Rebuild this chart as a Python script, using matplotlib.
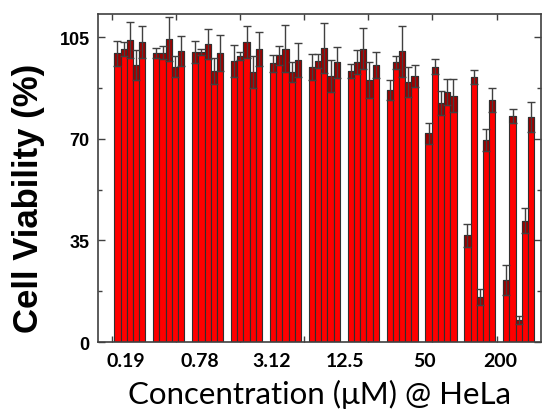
import numpy as np
import matplotlib
matplotlib.use("Agg")
import matplotlib.pyplot as plt
from matplotlib.ticker import MultipleLocator

concentrations = ["0.19", "0.39", "0.78", "1.56", "3.12", "6.25", "12.5", "25", "50", "100", "200"]
label_texts = ["0.19", "0.78", "3.12", "12.5", "50", "200"]
label_positions = [-0.1, 1.8, 3.65, 5.53, 7.58, 9.51]
tick_mark_positions = [-0.47, 1.18, 2.83, 4.47, 6.12, 7.76, 9.43]

values = [
    [99.4, 100.9, 104.1, 95.5, 103.4],
    [99.5, 99.7, 104.5, 94.8, 100.3],
    [100.0, 100.0, 102.8, 93.4, 99.7],
    [96.8, 98.6, 103.4, 93.0, 100.9],
    [96.0, 98.8, 101.1, 93.0, 97.1],
    [94.8, 96.8, 101.4, 91.6, 96.3],
    [93.4, 96.5, 101.1, 90.3, 95.5],
    [86.9, 96.3, 100.1, 89.6, 91.7],
    [71.9, 94.8, 82.3, 86.2, 84.8],
    [36.8, 91.3, 15.4, 69.6, 83.4],
    [21.5, 77.9, 7.6, 41.7, 77.6],
]
errors = [
    [4.4, 2.3, 6.2, 5.2, 5.5],
    [1.7, 2.3, 7.6, 3.6, 5.2],
    [3.8, 1.0, 5.2, 4.5, 6.2],
    [5.5, 1.4, 5.5, 5.5, 5.9],
    [2.9, 3.2, 8.1, 3.4, 5.9],
    [4.5, 2.5, 8.6, 5.6, 5.4],
    [2.5, 4.1, 7.1, 6.3, 4.5],
    [3.4, 2.3, 8.9, 5.2, 3.8],
    [3.6, 2.6, 4.2, 4.4, 5.7],
    [3.9, 2.4, 2.8, 3.7, 4.1],
    [5.2, 2.5, 1.5, 4.3, 5.2],
]

vals = np.array(values)
errs = np.array(errors)
n_groups, n_rep = vals.shape
bw = 0.16
x0 = np.arange(n_groups)

fig = plt.figure(figsize=(5.43, 4.10), dpi=100)
ax = fig.add_axes([0.1805, 0.1634, 0.9963 - 0.1805, 0.9634 - 0.1634])

for j in range(n_rep):
    xs = x0 + (j - (n_rep - 1) / 2) * bw
    ax.bar(xs, vals[:, j], width=bw, color="#FF0000", edgecolor="#303030", linewidth=0.8, zorder=2)
    ax.bar(xs, errs[:, j], bottom=vals[:, j] - errs[:, j], width=bw, color="#A00000",
           edgecolor="#303030", linewidth=0.8, zorder=3)
    ax.errorbar(xs, vals[:, j], yerr=errs[:, j], fmt="none", ecolor="#404040",
                elinewidth=1.0, capsize=3, capthick=1.0, zorder=4)

ax.set_xlim(-0.82, 10.57)
ax.set_ylim(0, 113)
ax.set_yticks([0, 35, 70, 105])
ax.yaxis.set_minor_locator(MultipleLocator(17.5))
ax.set_yticklabels(["0", "35", "70", "105"], fontfamily="Liberation Sans", fontweight="bold", fontsize=13)

ax.set_xticks(tick_mark_positions)
ax.set_xticklabels([""] * len(tick_mark_positions))
ax.set_xticks(label_positions, minor=True)
ax.set_xticklabels(label_texts, minor=True, fontfamily="Lato", fontweight="bold", fontsize=14)

ax.tick_params(axis="y", which="both", direction="in", left=True, right=True, color="#404040", width=1.0)
ax.tick_params(axis="y", which="major", length=5, pad=6)
ax.tick_params(axis="y", which="minor", length=3)
ax.tick_params(axis="x", which="major", direction="in", top=True, bottom=True, length=4, color="#404040", width=1.0)
ax.tick_params(axis="x", which="minor", length=0, pad=7)

for s in ax.spines.values():
    s.set_color("#404040")
    s.set_linewidth(1.2)

ax.set_xlabel("Concentration (\u03bcM) @ HeLa", fontfamily="Lato", fontsize=22.5, labelpad=7)
ax.set_ylabel("Cell Viability (%)", fontfamily="Liberation Sans", fontweight="bold", fontsize=25)
ax.yaxis.set_label_coords(-0.12, 0.44)

fig.savefig("out.png", dpi=100)
